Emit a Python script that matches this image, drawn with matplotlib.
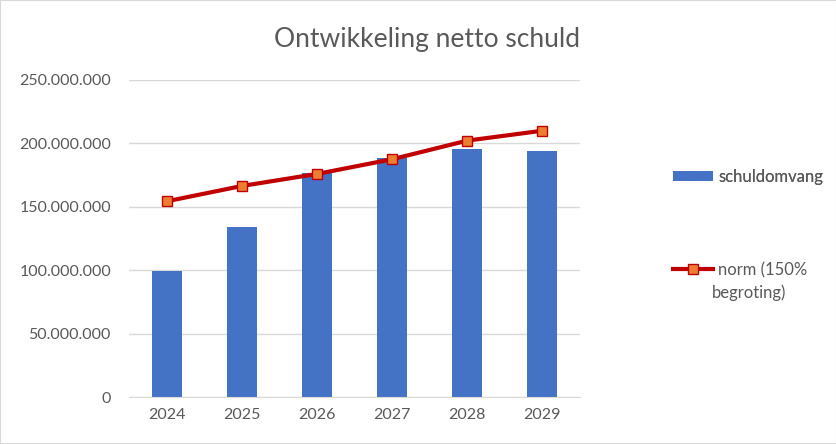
import numpy as np
import matplotlib.pyplot as plt
from matplotlib.patches import Rectangle
from matplotlib.ticker import FuncFormatter

# data
years = ['2024', '2025', '2026', '2027', '2028', '2029']
schuldomvang = [99.5e6, 133.8e6, 176.9e6, 188.2e6, 195.6e6, 194.2e6]
norm = [154.3e6, 166.4e6, 175.9e6, 187.5e6, 202.2e6, 210.0e6]
yticks = [0, 50e6, 100e6, 150e6, 200e6, 250e6]

txt = '#595959'
plt.rcParams['font.family'] = ['Lato', 'DejaVu Sans']

fig = plt.figure(figsize=(8.37, 4.44), dpi=100)
ax = fig.add_axes([129/837, 1 - 397/444, 451/837, 317/444])

x = np.arange(len(years))
bars = ax.bar(x, schuldomvang, width=0.4, color='#4472C4', zorder=2)
line, = ax.plot(x, norm, color='#C00000', lw=3, marker='s', ms=7,
                mfc='#ED7D31', mec='#C00000', mew=1, zorder=3)

ax.set_xlim(-0.5, len(years) - 0.5)
ax.set_ylim(0, 250e6)
ax.set_yticks(yticks)
ax.yaxis.set_major_formatter(FuncFormatter(lambda v, p: '{:,.0f}'.format(v).replace(',', '.')))
ax.set_xticks(x)
ax.set_xticklabels(years)
ax.grid(axis='y', color='#D9D9D9', lw=1, zorder=0)
for s in ['top', 'right', 'left']:
    ax.spines[s].set_visible(False)
ax.spines['bottom'].set_color('#D9D9D9')
ax.tick_params(length=0, labelsize=11.5, labelcolor=txt)
ax.tick_params(axis='y', pad=13)
ax.tick_params(axis='x', pad=8)

fig.text(427/837, 1 - 40/444, 'Ontwikkeling netto schuld', ha='center', va='center',
         fontsize=19, color=txt)

# legend, two separated entries like the original
leg1 = fig.legend([bars], ['schuldomvang'], loc='center left', bbox_to_anchor=(658/837, 1 - 177/444),
                  frameon=False, handlelength=2.4, handleheight=0.5, handletextpad=0.3,
                  prop={'size': 12}, labelcolor=txt)
leg2 = fig.legend([line], ['norm (150%'], loc='center left',
                  bbox_to_anchor=(658/837, 1 - 270/444),
                  frameon=False, handlelength=2.4, handletextpad=0.3,
                  prop={'size': 12}, labelcolor=txt)
fig.add_artist(leg1)
fig.text(712/837, 1 - 293/444, 'begroting)', ha='left', va='center', fontsize=12, color=txt)

fig.patches.append(Rectangle((0, 0), 1, 1, transform=fig.transFigure, fill=False,
                             edgecolor='#D9D9D9', lw=1.5))

fig.savefig('out.png', dpi=100)
